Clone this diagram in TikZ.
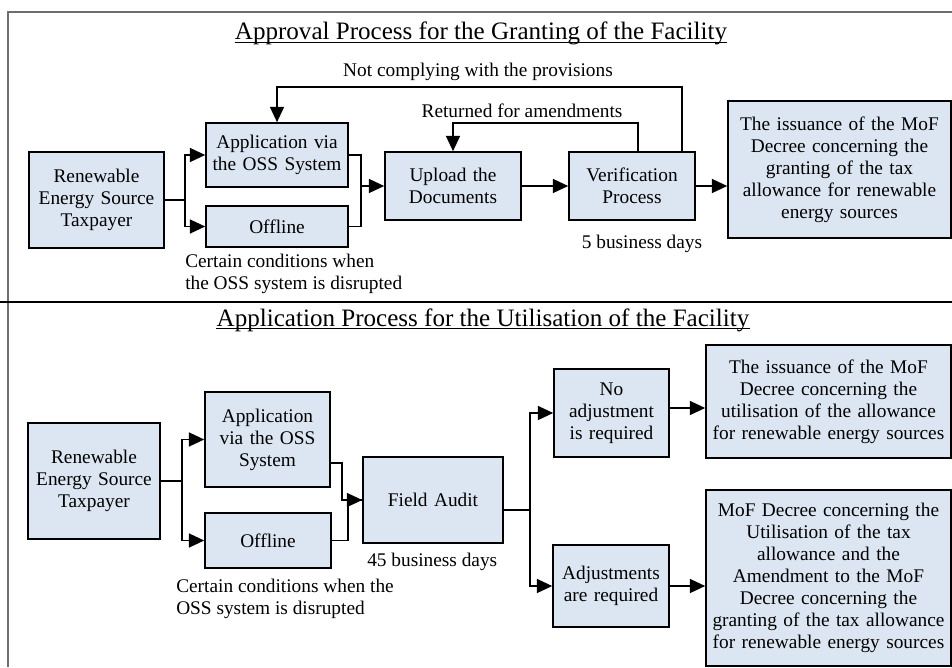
\documentclass[tikz,border=0pt]{standalone}
\usepackage{fontspec}
\setmainfont{Liberation Serif}
\usetikzlibrary{arrows.meta}
\definecolor{boxblue}{HTML}{DCE6F2}
\definecolor{framegray}{HTML}{6E6E6E}
% box given by its pixel corners: name, x1, y1, x2, y2, text
\newcommand\pxbox[6]{%
  \pgfmathsetlengthmacro\pxboxw{(#4-#2)*0.75pt}%
  \pgfmathsetlengthmacro\pxboxh{(#5-#3)*0.75pt}%
  \pgfmathsetlengthmacro\pxboxt{(#4-#2-4)*0.75pt}%
  \node[box,minimum width=\pxboxw,minimum height=\pxboxh,text width=\pxboxt]
    (#1) at ({(#2+#4)/2},{(#3+#5)/2}) {#6};}
\begin{document}
\begin{tikzpicture}[x=0.75pt,y=-0.75pt,
  every node/.style={font=\fontsize{14.5}{16.5}\selectfont},
  box/.style={draw=black,line width=1.2pt,fill=boxblue,align=center,inner sep=0pt},
  link/.style={line width=1.2pt},
  flow/.style={link,-{Triangle[length=11.5pt,width=10.5pt]}},
  note/.style={inner sep=0pt,align=left},
  heading/.style={inner sep=0pt,font=\fontsize{18.8}{22}\selectfont}]

\fill[white] (0,0) rectangle (952,667);
\useasboundingbox (0,0) rectangle (952,667);

% outer frame and section divider
\draw[framegray,line width=1.2pt] (8,667) -- (8,12) -- (952,12);
\draw[line width=1.2pt] (0,302) -- (952,302);

% ---------- granting of the facility ----------
\node[heading,anchor=base] (t1) at (481,40) {Approval Process for the Granting of the Facility};
\draw[line width=0.8pt] ([yshift=-2pt]t1.base west) -- ([yshift=-2pt]t1.base east);

\pxbox{tp1}{29}{152}{164}{248}{Renewable\\Energy Source\\Taxpayer}
\pxbox{app1}{206}{123}{348}{187}{Application via\\the OSS System}
\pxbox{off1}{206}{206}{348}{247}{Offline}
\pxbox{up}{385}{152}{521}{220}{Upload the\\Documents}
\pxbox{ver}{569}{152}{695}{220}{Verification\\Process}
\pxbox{iss1}{728}{101}{951}{238}{The issuance of the MoF\\Decree concerning the\\granting of the tax\\allowance for renewable\\energy sources}

\coordinate (s1) at (185,200);
\draw[link] (tp1.east) -- (s1);
\draw[flow] (s1) |- (app1.west);
\draw[flow] (s1) |- (off1.west);
\draw[link] (app1.east) -- ++(12,0) coordinate (m1) |- (off1.east);
\draw[flow] (m1 |- up.west) -- (up.west);
\draw[flow] (up) -- (ver);
\draw[flow] (ver.east) -- (ver.east -| iss1.west);
\draw[flow] ([xshift=37.5pt]ver.north) -- ++(0,-64) -| (app1.north);
\draw[flow] ([xshift=4.5pt]ver.north) -- ++(0,-28) -| (up.north);

\node[note,anchor=base] (nc) at (478,76) {Not complying with the provisions};
\node[note,anchor=base] (ra) at (522,117) {Returned for amendments};
\node[note,anchor=base] (bd1) at (642,248) {5 business days};
\node[note,anchor=base west] (cc1) at (185,289) {Certain conditions when\\the OSS system is disrupted};

% ---------- utilisation of the facility ----------
\node[heading,anchor=base] (t2) at (483,326) {Application Process for the Utilisation of the Facility};
\draw[line width=0.8pt] ([yshift=-2pt]t2.base west) -- ([yshift=-2pt]t2.base east);

\pxbox{tp2}{28}{423}{160}{539}{Renewable\\Energy Source\\Taxpayer}
\pxbox{app2}{205}{392}{330}{487}{Application\\via the OSS\\System}
\pxbox{off2}{205}{513}{331}{568}{Offline}
\pxbox{fa}{363}{457}{503}{543}{Field Audit}
\pxbox{na}{554}{369}{669}{457}{No\\adjustment\\is required}
\pxbox{adj}{553}{545}{669}{627}{Adjustments\\are required}
\pxbox{iss2}{706}{345}{951}{458}{The issuance of the MoF\\Decree concerning the\\utilisation of the allowance\\for renewable energy sources}
\pxbox{iss3}{706}{490}{951}{666}{MoF Decree concerning the\\Utilisation of the tax\\allowance and the\\Amendment to the MoF\\Decree concerning the\\granting of the tax allowance\\for renewable energy sources}

\coordinate (s2) at (182,481);
\draw[link] (tp2.east) -- (s2);
\draw[flow] (s2) |- (app2.west);
\draw[flow] (s2) |- (off2.west);
\draw[link] (off2.east) -- ++(16,0) |- (fa.west);
\draw[flow] ([yshift=-17.6pt]app2.east) -- ++(11,0) |- (fa.west);
\draw[link] ([yshift=-7.5pt]fa.east) -- ++(26,0) coordinate (s3);
\draw[flow] (s3) |- (na.west);
\draw[flow] (s3) |- (adj.west);
\draw[flow] ([yshift=3.75pt]na.east) -- ([yshift=3.75pt]na.east -| iss2.west);
\draw[flow] (adj.east) -- (adj.east -| iss3.west);

\node[note,anchor=base west] (bd2) at (367,566) {45 business days};
\node[note,anchor=base west] (cc2) at (176,614) {Certain conditions when the\\OSS system is disrupted};

\end{tikzpicture}
\end{document}
